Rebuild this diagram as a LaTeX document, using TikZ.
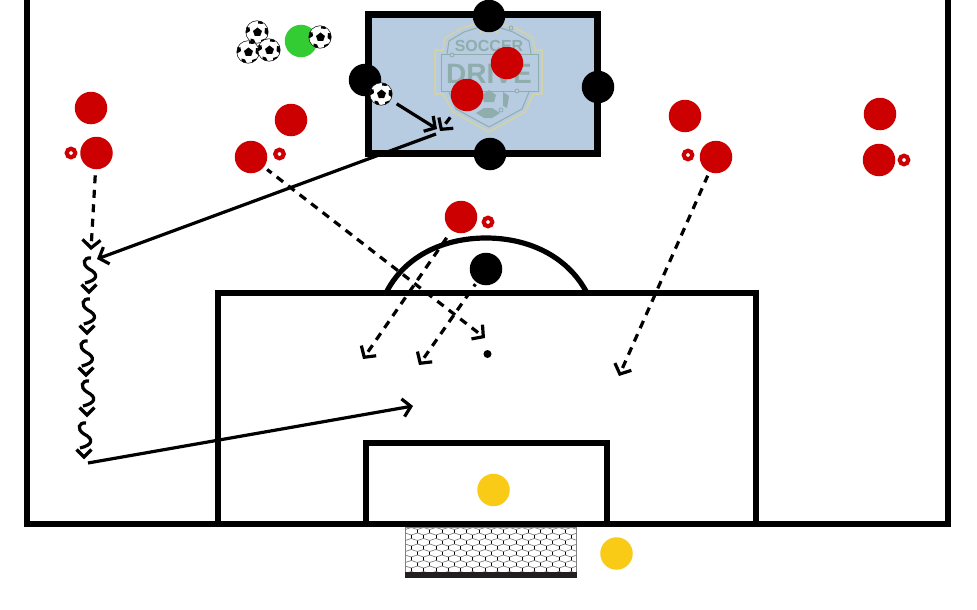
\documentclass[tikz,border=0pt]{standalone}
\usepackage{fontspec}
\setsansfont{Liberation Sans}
\usetikzlibrary{arrows.meta,shapes.geometric}
\definecolor{gateBlue}{HTML}{B7CCE1}
\definecolor{playerRed}{HTML}{CC0000}
\definecolor{keeperYellow}{HTML}{F9CB17}
\definecolor{servGreen}{HTML}{33CC33}
\definecolor{logoGreen}{HTML}{8FADAC}
\definecolor{logoPale}{HTML}{D2D2A6}
\definecolor{netDark}{HTML}{231F20}
\tikzset{
  dot/.style={circle, inner sep=0pt, minimum size=32.5pt},
  red/.style={dot, fill=playerRed},
  blk/.style={dot, fill=black},
  gk/.style={dot, fill=keeperYellow},
  ring/.style={circle, inner sep=0pt, minimum size=8.5pt, draw=playerRed, line width=4.2pt, fill=white},
  ball/.style={circle, draw, line width=0.5pt, fill=white, inner sep=0pt, minimum size=22.5pt,
    path picture={
      \fill[black, shift={(path picture bounding box.center)}]
        (0.5,-4.5) -- (5,-1) -- (3.2,4) -- (-2.2,4) -- (-4,-1) -- cycle;
      \fill[black, shift={(path picture bounding box.center)}]
        (-11,-5) -- (-7.5,-4.5) -- (-7,-1) -- (-11,1.5) -- cycle
        (1.5,-12) -- (6.5,-11) -- (5.5,-8) -- (1,-8.5) -- cycle
        (11,-3.5) -- (8,-4) -- (7.5,1) -- (11,3.5) -- cycle
        (-6.5,11) -- (-6.5,6.5) -- (-3,7.5) -- (-1,12) -- cycle
        (4,12) -- (4,8) -- (8.5,6.5) -- (9.5,9) -- cycle;
    }},
  line/.style={line width=3.2pt},
  run/.style={line, -{Straight Barb[length=8pt,width=18pt]}},
  pass/.style={run, dash pattern=on 8pt off 6.5pt},
  chalk/.style={line width=5.2pt},
}
\begin{document}
\begin{tikzpicture}[x=1pt, y=-1pt]
  \useasboundingbox (0,0) rectangle (977,610);
  % --- Pitch ---
  \draw[line width=6pt] (27,0) -- (27,524) (948,0) -- (948,524) (24,524) -- (951,524);
  \draw[chalk] (218,523) -- (218,293) -- (756,293) -- (756,523);
  \draw[chalk] (366,523) -- (366,443) -- (607,443) -- (607,523);
  \draw[chalk] (386,293) .. controls (405,255) and (445,238) .. (486,238) .. controls (527,238) and (567,255) .. (587,293);
  \node[circle, fill=black, inner sep=0pt, minimum size=8pt] (spot) at (487.5,354) {};

  % --- Goal ---
  \fill[white] (405,527) rectangle (576,572);
  \begin{scope}
    \clip (405,527) rectangle (576,572);
    \foreach \row in {0,...,8} {
      \foreach \col in {0,...,14} {
        \pgfmathsetmacro{\xa}{399+\col*12.3-mod(\row,2)*6.15}
        \pgfmathsetmacro{\ya}{527.5+\row*5.5}
        \draw[gray, line width=0.7pt] (\xa,\ya) -- (\xa+6.15,\ya+2) -- (\xa+12.3,\ya);
        \draw[black, line width=0.7pt] (\xa+6.15,\ya+2) -- (\xa+6.15,\ya+5.5);
      }
    }
  \end{scope}
  \draw[gray, line width=0.8pt] (405,572) -- (405,527) -- (576,527) -- (576,572);
  \fill[netDark] (404.5,571.5) rectangle (576.5,577.5);

  % --- Target zone with badge ---
  \fill[gateBlue] (368,15) rectangle (597,153);
  \draw[logoPale, line width=1.6pt, line join=round] (445,38) -- (462,28) -- (489,20) -- (515,28) -- (533,38) -- (535,50) -- (542,50) -- (542,94) -- (533,94) -- (525,112) -- (489,132) -- (453,112) -- (443,94) -- (435,94) -- (435,50) -- (443,50) -- cycle;
  \draw[logoGreen, line width=1pt, line join=round] (449,41) -- (464,32) -- (489,24) -- (513,32) -- (529,41) -- (531,54) (447,54) -- (449,41) (529,92) -- (522,109) -- (489,127) -- (456,109) -- (449,92);
  \draw[logoGreen, line width=1pt] (452,55) -- (538,55) -- (538,91) -- (517,91) (441,91) -- (441,55) -- (452,55) (441,91) -- (517,91);
  \foreach \x/\y in {452/55, 511/28, 517/91, 501/110} {
    \draw[logoGreen, line width=0.8pt, fill=gateBlue] (\x,\y) circle (2pt);
  }
  \foreach \x in {481,489,497} {
    \node[star, star points=5, fill=logoPale, inner sep=0pt, minimum size=4pt] (badgeStar\x) at (\x,32) {};
  }
  \fill[logoGreen] (489,90) -- (496,95) -- (494,102) -- (484,102) -- (482,95) -- cycle;
  \fill[logoGreen] (476,113) -- (484,108) -- (492,108) -- (500,113) -- (492,118) -- (484,118) -- cycle;
  \fill[logoGreen] (503,92) -- (509,96) -- (507,108) -- (503,106) -- cycle;
  \node[logoGreen, font=\sffamily\bfseries\fontsize{16}{16}\selectfont, inner sep=0pt] (badgeTop) at (489,45.5) {SOCCER};
  \node[logoGreen, font=\sffamily\bfseries\fontsize{28}{28}\selectfont, inner sep=0pt] (badgeMain) at (489,73.5) {DRIVE};
  \draw[black, line width=7pt] (368,15) rectangle (597.5,153.5);

  % --- Players ---
  \node[blk] (gateTop) at (489,16) {};
  \node[blk] (gateLeft) at (365,80) {};
  \node[blk] (gateRight) at (598,87) {};
  \node[blk] (gateBot) at (490,154) {};
  \node[blk] (defCentre) at (486,269) {};

  \node[red] (zoneA) at (507,63) {};
  \node[red] (zoneB) at (467,95) {};
  \node[red] (wideLa) at (91,108) {};
  \node[red] (wideLb) at (96.5,153) {};
  \node[red] (midLa) at (291,120) {};
  \node[red] (midLb) at (251,157) {};
  \node[red] (midRa) at (685,116) {};
  \node[red] (midRb) at (716,157) {};
  \node[red] (wideRa) at (880,114) {};
  \node[red] (wideRb) at (879,160) {};
  \node[red] (striker) at (461,217) {};

  \node[ring] (ringLa) at (71,153) {};
  \node[ring] (ringLb) at (279.5,154) {};
  \node[ring] (ringRa) at (688,155) {};
  \node[ring] (ringRb) at (904,160) {};
  \node[ring] (ringMid) at (488,222) {};

  \node[dot, fill=servGreen] (server) at (301,41) {};
  \node[gk] (keeper) at (493.5,490) {};
  \node[gk] (spare) at (616.5,553.5) {};

  \node[ball] (ballA) at (257,32) {};
  \node[ball] (ballB) at (248,52) {};
  \node[ball] (ballC) at (269,50) {};
  \node[ball] (ballD) at (320,37) {};
  \node[ball] (ballE) at (381,94) {};

  % --- Free ends ---
  \coordinate (passEnd) at (437,129);
  \coordinate (layEnd) at (440,131);
  \coordinate (crossStart) at (436,134);
  \coordinate (dribbleTop) at (97,259);
  \coordinate (wideEnd) at (91,250);
  \coordinate (shotStart) at (88,463);
  \coordinate (shotEnd) at (413,406);
  \coordinate (midEnd) at (485,338);
  \coordinate (strikerEnd) at (363,359);
  \coordinate (defEnd) at (419,365);
  \coordinate (rightEnd) at (619,376);

  % --- Straight Connections ---
  \draw[run, shorten <=7pt] (ballE) -- (passEnd);
  \draw[run] (crossStart) -- (dribbleTop);
  \draw[run] (shotStart) -- (shotEnd);

  % --- Dashed Connections ---
  \draw[pass, dash phase=8pt, shorten <=5pt] (zoneB) -- (layEnd);
  \draw[pass, dash phase=13.6pt, shorten <=5pt] (wideLb) -- (wideEnd);
  \draw[pass, dash phase=2.4pt, shorten <=4pt] (midLb) -- (midEnd);
  \draw[pass, dash phase=9.7pt, shorten <=4pt] (striker) -- (strikerEnd);
  \draw[pass, dash phase=5.2pt, shorten <=2pt] (defCentre) -- (defEnd);
  \draw[pass, dash phase=0.7pt, shorten <=4pt] (midRb) -- (rightEnd);

  % --- Dribble ---
  \foreach \x/\y/\tipx in {90/258/89, 88.8/299/87, 86.7/341/86, 88/381/87, 85/423/84} {
    \draw[line] (\x+1,\y) .. controls (\x-6,\y-1) and (\x-9,\y+6) .. (\x-1,\y+11) .. controls (\x+9,\y+16) and (\x+8,\y+22) .. (\x-5,\y+25);
    \draw[line] (\tipx-7.5,\y+26.5) -- (\tipx,\y+34) -- (\tipx+7.5,\y+26.5);
  }
\end{tikzpicture}
\end{document}
